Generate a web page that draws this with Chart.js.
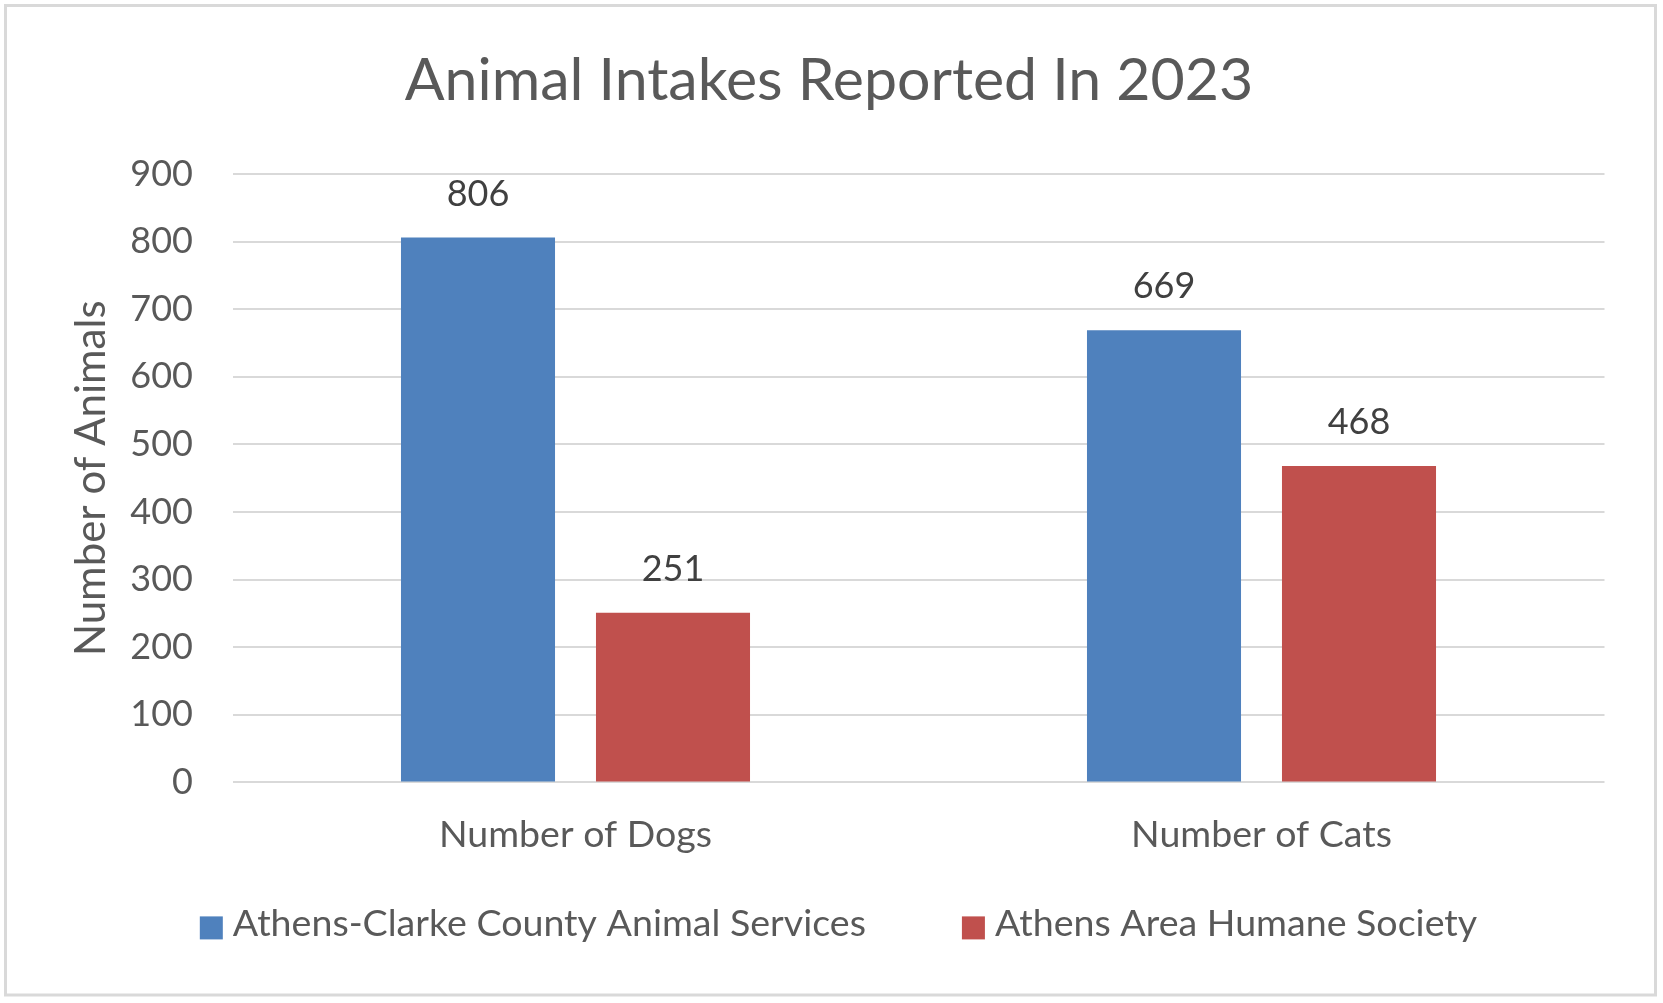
<!DOCTYPE html>
<html>
<head>
<meta charset="utf-8">
<title>Animal Intakes Reported In 2023</title>
<script src="https://cdn.jsdelivr.net/npm/chart.js@4.4.1/dist/chart.umd.min.js"></script>
<style>
  html, body { margin: 0; padding: 0; background: #ffffff; overflow: hidden; }
  #chart1 { display: block; }
</style>
</head>
<body>
<canvas id="chart1" width="1663" height="1003"></canvas>
<script>
// chart data
const categories = ['Number of Dogs', 'Number of Cats'];
const seriesNames = ['Athens-Clarke County Animal Services', 'Athens Area Humane Society'];
const accsValues = [806, 669];
const aahsValues = [251, 468];
const yTicks = [0, 100, 200, 300, 400, 500, 600, 700, 800, 900];

const FONT = 'Lato, Carlito, Calibri, sans-serif';
const GREY = '#595959';

// outer frame around the whole chart
const framePlugin = {
  id: 'frame',
  beforeDraw(chart) {
    const ctx = chart.ctx;
    ctx.save();
    ctx.fillStyle = '#ffffff';
    ctx.fillRect(0, 0, chart.width, chart.height);
    ctx.strokeStyle = '#d9d9d9';
    ctx.lineWidth = 3;
    ctx.strokeRect(5.5, 5.5, chart.width - 13, chart.height - 13.5);
    ctx.restore();
  }
};

// value labels above each bar
const valueLabels = {
  id: 'valueLabels',
  afterDatasetsDraw(chart) {
    const ctx = chart.ctx;
    ctx.save();
    ctx.font = '36px ' + FONT;
    ctx.fillStyle = '#404040';
    ctx.textAlign = 'center';
    ctx.textBaseline = 'alphabetic';
    chart.data.datasets.forEach((ds, i) => {
      chart.getDatasetMeta(i).data.forEach((bar, j) => {
        ctx.fillText(String(ds.data[j]), bar.x, bar.y - 32);
      });
    });
    ctx.restore();
  }
};

// legend under the x axis, laid out like the spreadsheet one
const bottomLegend = {
  id: 'bottomLegend',
  afterDraw(chart) {
    const ctx = chart.ctx;
    const box = 23, gap = 10, itemGap = 96;
    ctx.save();
    ctx.font = '37.6px ' + FONT;
    ctx.textBaseline = 'alphabetic';
    ctx.textAlign = 'left';
    const items = chart.data.datasets.map(ds => ({
      text: ds.label,
      color: ds.backgroundColor,
      w: ctx.measureText(ds.label).width,
    }));
    let total = 0;
    items.forEach((it, i) => { total += box + gap + it.w + (i > 0 ? itemGap : 0); });
    let x = chart.width / 2 + 7 - total / 2;
    const boxTop = chart.chartArea.bottom + 134;
    items.forEach(it => {
      ctx.fillStyle = it.color;
      ctx.fillRect(x, boxTop, box, box);
      ctx.fillStyle = GREY;
      ctx.fillText(it.text, x + box + gap, boxTop + 20);
      x += box + gap + it.w + itemGap;
    });
    ctx.restore();
  }
};

const chart1Ctx = document.getElementById('chart1').getContext('2d');
window.myBarChart = new Chart(chart1Ctx, {
  type: 'bar',
  data: {
    labels: categories,
    datasets: [
      {
        label: seriesNames[0],
        data: accsValues,
        backgroundColor: '#4f81bd',
        categoryPercentage: 0.5685,
        barPercentage: 0.79,
      },
      {
        label: seriesNames[1],
        data: aahsValues,
        backgroundColor: '#c0504d',
        categoryPercentage: 0.5685,
        barPercentage: 0.79,
      },
    ],
  },
  options: {
    responsive: false,
    animation: false,
    devicePixelRatio: 1,
    layout: {
      // x axis box is ticks padding*2 + line height = 104.4 tall
      padding: { left: 53.5, right: 58.5, top: 0, bottom: 115.6 },
    },
    plugins: {
      title: {
        display: true,
        text: 'Animal Intakes Reported In 2023',
        color: GREY,
        font: { family: FONT, size: 59, weight: 'normal' },
        padding: { top: 45.6, bottom: 57.6 },
      },
      legend: { display: false },
      tooltip: { enabled: false },
    },
    scales: {
      x: {
        grid: { display: false, drawTicks: false },
        border: { display: false },
        ticks: {
          color: GREY,
          font: { family: FONT, size: 37.5 },
          padding: 30,
        },
      },
      y: {
        min: 0,
        max: 900,
        afterBuildTicks(scale) { scale.ticks = yTicks.map(v => ({ value: v })); },
        grid: { color: '#d9d9d9', lineWidth: 2, drawTicks: false },
        border: { display: false },
        ticks: {
          color: GREY,
          font: { family: FONT, size: 36 },
          padding: 39.5,
        },
        title: {
          display: true,
          text: 'Number of Animals',
          color: GREY,
          font: { family: FONT, size: 42 },
          padding: { top: 13, bottom: 0 },
        },
        afterFit(scale) { scale.width = 179; },
      },
    },
  },
  plugins: [framePlugin, valueLabels, bottomLegend],
});
</script>
</body>
</html>
